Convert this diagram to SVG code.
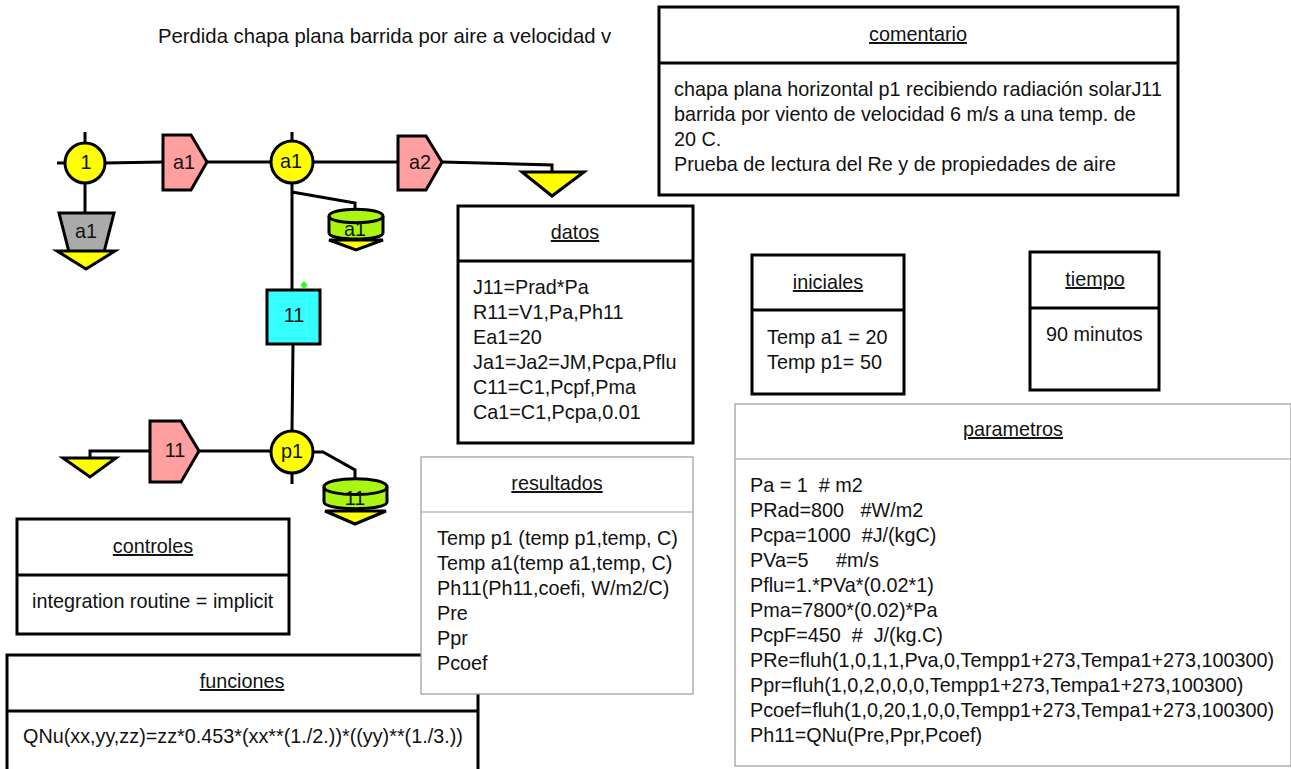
<svg xmlns="http://www.w3.org/2000/svg" width="1291" height="769" viewBox="0 0 1291 769">
<style>
text{font-family:"Liberation Sans",Arial,sans-serif;font-size:19.8px;fill:#111}
.c{text-anchor:middle}
.t{text-anchor:middle;text-decoration:underline}
.tg{text-decoration-color:#999}
.box{fill:#fff;stroke:#000;stroke-width:3}
.thin{fill:#fff;stroke:#999;stroke-width:1.2}
.div{stroke:#000;stroke-width:3}
.divt{stroke:#999;stroke-width:1.2}
.ln{fill:none;stroke:#000;stroke-width:3}
.n{stroke:#000;stroke-width:3}
.y{fill:#ff0}
.p{fill:#ff9f9f}
.g{fill:#aaf511}
</style>
<rect width="1291" height="769" fill="#fff"/>
<text id="titulo" x="158" y="43" style="font-size:20.3px">Perdida chapa plana barrida por aire a velocidad v</text>
<g id="connectors" class="ln">
<path d="M85 132V144M85 184V218M57 163H67M104 163L163 162M207 162H271M292 132V144M292 181V291M292 192L355 203V212M313 162H398M442 162L552 165V172M293 345L292 431M195 451H271M292 471V484M313 452H323L355 470V480M149 451H90V458"/>
</g>
<g id="n-1"><circle class="n y" cx="85" cy="163" r="20"/><text class="c" x="86" y="169">1</text></g>
<g id="n-a1-top"><polygon class="n p" points="163,135 191,135 207,162 191,190 163,190"/><text class="c" x="184" y="169">a1</text></g>
<g id="n-a1-node"><circle class="n y" cx="292" cy="162" r="21"/><text class="c" x="291" y="168">a1</text></g>
<g id="n-a2"><polygon class="n p" points="398,136 426,136 442,162 426,190 398,190"/><text class="c" x="420" y="169">a2</text></g>
<g id="n-sink-a2"><polygon class="n y" points="522,172 584,172 552,196"/></g>
<g id="n-a1-gray"><polygon fill="#aaa" class="n" points="59,213 114,213 104,252 69,252"/><text class="c" x="86" y="238">a1</text><polygon class="n y" points="57,251 115,251 86,269"/></g>
<g id="n-a1-cap"><path class="n g" d="M329 216C329 207 383 207 383 216V233C383 241 329 241 329 233Z"/><path class="ln" d="M329 216C329 225 383 225 383 216"/><text class="c" x="355" y="236">a1</text><polygon class="n y" points="329,240 383,240 356,250"/></g>
<g id="n-11"><rect class="n" fill="#3ff" x="267" y="290" width="53" height="54"/><text class="c" x="294" y="322">11</text><polygon fill="#2f2" points="304,281 307.500,285 304,289 300.500,285"/></g>
<g id="n-p1"><circle class="n y" cx="292" cy="452" r="21"/><text class="c" x="292" y="458">p1</text></g>
<g id="n-11-p"><polygon class="n p" points="150,421 181,421 199,451 181,482 150,482"/><text class="c" x="175" y="457">11</text></g>
<g id="n-sink-11"><polygon class="n y" points="63,458 116,458 90,477"/></g>
<g id="n-11-cap"><path class="n g" d="M324 487C324 476 387 476 387 487V502C387 511 324 511 324 502Z"/><path class="ln" d="M324 487C324 497 387 497 387 487"/><text class="c" x="355" y="505">11</text><polygon class="n y" points="325,511 386,511 355,524"/></g>

<g id="comentario"><rect class="box" x="659" y="7" width="519" height="188"/><line class="div" x1="659" y1="63" x2="1178" y2="63"/><text class="t" x="918" y="41">comentario</text>
<text x="674" y="96">chapa plana horizontal p1 recibiendo radiación solarJ11</text><text x="674" y="121">barrida por viento de velocidad 6 m/s a una temp. de</text><text x="674" y="146">20 C.</text><text x="674" y="171">Prueba de lectura del Re y de propiedades de aire</text></g>
<g id="datos"><rect class="box" x="458" y="206" width="235" height="237"/><line class="div" x1="458" y1="261" x2="693" y2="261"/><text class="t" x="575" y="239">datos</text>
<text x="473" y="294">J11=Prad*Pa</text><text x="473" y="319">R11=V1,Pa,Ph11</text><text x="473" y="344">Ea1=20</text><text x="473" y="369">Ja1=Ja2=JM,Pcpa,Pflu</text><text x="473" y="394">C11=C1,Pcpf,Pma</text><text x="473" y="419">Ca1=C1,Pcpa,0.01</text></g>
<g id="iniciales"><rect class="box" x="752" y="255" width="152" height="139"/><line class="div" x1="752" y1="310" x2="904" y2="310"/><text class="t" x="828" y="289">iniciales</text>
<text x="767" y="344">Temp a1 = 20</text><text x="767" y="369">Temp p1= 50</text></g>
<g id="tiempo"><rect class="box" x="1030" y="252" width="129" height="138"/><line class="div" x1="1030" y1="308" x2="1159" y2="308"/><text class="t" x="1095" y="286">tiempo</text>
<text x="1046" y="341">90 minutos</text></g>
<g id="parametros"><rect class="thin" x="735" y="404" width="556" height="362"/><line class="divt" x1="735" y1="459" x2="1291" y2="459"/><text class="t tg" x="1013" y="436">parametros</text>
<text x="750" y="492" xml:space="preserve">Pa = 1  # m2</text><text x="750" y="517" xml:space="preserve">PRad=800   #W/m2</text><text x="750" y="542" xml:space="preserve">Pcpa=1000  #J/(kgC)</text><text x="750" y="567" xml:space="preserve">PVa=5     #m/s</text><text x="750" y="592">Pflu=1.*PVa*(0.02*1)</text><text x="750" y="617">Pma=7800*(0.02)*Pa</text><text x="750" y="642" xml:space="preserve">PcpF=450  #  J/(kg.C)</text><text x="750" y="667">PRe=fluh(1,0,1,1,Pva,0,Tempp1+273,Tempa1+273,100300)</text><text x="750" y="692">Ppr=fluh(1,0,2,0,0,0,Tempp1+273,Tempa1+273,100300)</text><text x="750" y="717">Pcoef=fluh(1,0,20,1,0,0,Tempp1+273,Tempa1+273,100300)</text><text x="750" y="742">Ph11=QNu(Pre,Ppr,Pcoef)</text></g>
<g id="controles"><rect class="box" x="17" y="519" width="272" height="115"/><line class="div" x1="17" y1="575" x2="289" y2="575"/><text class="t" x="153" y="553">controles</text>
<text x="32" y="608">integration routine = implicit</text></g>
<g id="funciones"><rect class="box" x="7" y="655" width="471" height="120"/><line class="div" x1="7" y1="711" x2="478" y2="711"/><text class="t" x="242" y="688">funciones</text>
<text x="23" y="743">QNu(xx,yy,zz)=zz*0.453*(xx**(1./2.))*((yy)**(1./3.))</text></g>
<g id="resultados"><rect class="thin" x="421" y="457" width="272" height="237"/><line class="divt" x1="421" y1="512" x2="693" y2="512"/><text class="t tg" x="557" y="490">resultados</text>
<text x="437" y="545">Temp p1 (temp p1,temp, C)</text><text x="437" y="570">Temp a1(temp a1,temp, C)</text><text x="437" y="595">Ph11(Ph11,coefi, W/m2/C)</text><text x="437" y="620">Pre</text><text x="437" y="645">Ppr</text><text x="437" y="670">Pcoef</text></g>
</svg>
